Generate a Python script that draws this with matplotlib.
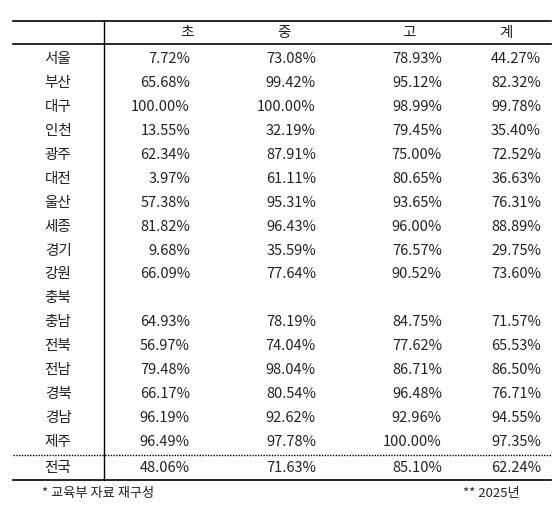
import matplotlib.pyplot as plt

plt.rcParams['font.family'] = ['Noto Sans CJK KR', 'DejaVu Sans']

regions = ['서울', '부산', '대구', '인천', '광주', '대전', '울산', '세종', '경기', '강원',
           '충북', '충남', '전북', '전남', '경북', '경남', '제주']
elem = ['7.72%', '65.68%', '100.00%', '13.55%', '62.34%', '3.97%', '57.38%', '81.82%', '9.68%', '66.09%',
        '', '64.93%', '56.97%', '79.48%', '66.17%', '96.19%', '96.49%']
mid = ['73.08%', '99.42%', '100.00%', '32.19%', '87.91%', '61.11%', '95.31%', '96.43%', '35.59%', '77.64%',
       '', '78.19%', '74.04%', '98.04%', '80.54%', '92.62%', '97.78%']
high = ['78.93%', '95.12%', '98.99%', '79.45%', '75.00%', '80.65%', '93.65%', '96.00%', '76.57%', '90.52%',
        '', '84.75%', '77.62%', '86.71%', '96.48%', '92.96%', '100.00%']
total = ['44.27%', '82.32%', '99.78%', '35.40%', '72.52%', '36.63%', '76.31%', '88.89%', '29.75%', '73.60%',
         '', '71.57%', '65.53%', '86.50%', '76.71%', '94.55%', '97.35%']
national = ['48.06%', '71.63%', '85.10%', '62.24%']
headers = ['초', '중', '고', '계']

fig = plt.figure(figsize=(5.59, 5.10), dpi=100)
ax = fig.add_axes([0, 0, 1, 1])
ax.set_xlim(0, 559)
ax.set_ylim(510, 0)
ax.axis('off')

fs = 10.5
txt = '#222222'
head_x = [187, 284, 409, 506]
val_x = [190, 316, 442, 541]

# lines
ax.plot([13, 551], [22, 22], color='black', lw=1.2)
ax.plot([13, 551], [45, 45], color='black', lw=1.2)
ax.plot([13, 551], [456, 456], color='black', lw=1, ls=(0, (1, 1)))
ax.plot([13, 551], [481, 481], color='black', lw=1.2)
ax.plot([104, 104], [22, 481], color='black', lw=1)

for x, h in zip(head_x, headers):
    ax.text(x, 33, h, ha='center', va='center', fontsize=fs, color=txt)

cols = [elem, mid, high, total]
for i, r in enumerate(regions):
    y = 59 + i * 23.94
    ax.text(58, y, r, ha='center', va='center', fontsize=fs, color=txt)
    for x, c in zip(val_x, cols):
        ax.text(x, y, c[i], ha='right', va='center', fontsize=fs, color=txt)

ax.text(58, 468, '전국', ha='center', va='center', fontsize=fs, color=txt)
for x, v in zip(val_x, national):
    ax.text(x, 468, v, ha='right', va='center', fontsize=fs, color=txt)

ax.text(42, 494, '* 교육부 자료 재구성', ha='left', va='center', fontsize=9.5, color=txt)
ax.text(520, 494, '** 2025년', ha='right', va='center', fontsize=9.5, color=txt)

fig.savefig('out.png', dpi=100, facecolor='white')
